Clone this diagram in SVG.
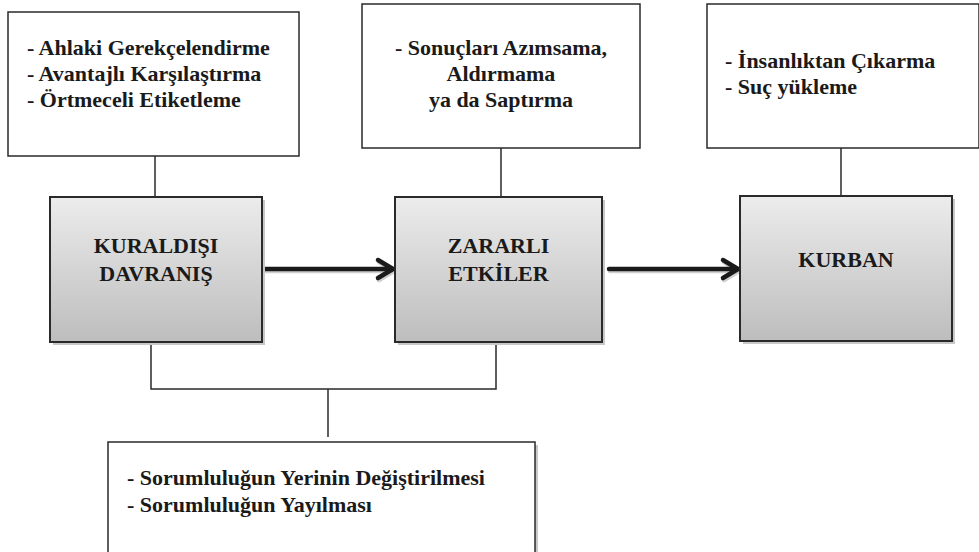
<svg xmlns="http://www.w3.org/2000/svg" width="979" height="552" viewBox="0 0 979 552">
<defs>
<linearGradient id="g" x1="0" y1="0" x2="0" y2="1">
<stop offset="0" stop-color="#ececec"/>
<stop offset="1" stop-color="#bdbdbd"/>
</linearGradient>
<style>
.box{fill:#fff;stroke:#2a2a2a;stroke-width:1.5}
.gbox{fill:url(#g);stroke:#2a2a2a;stroke-width:2}
.sh{fill:#c8c8c8}
.t{font-family:'Liberation Serif','Times New Roman',serif;font-weight:700;font-size:22px;fill:#1a1a1a}
.c{text-anchor:middle}
.ln{stroke:#2a2a2a;stroke-width:1.5;fill:none}
.ar{stroke:#1a1a1a;stroke-width:4.5;fill:none;stroke-linecap:round;stroke-linejoin:round}
.ars{stroke:#cfcfcf;stroke-width:4.5;fill:none;stroke-linecap:round;stroke-linejoin:round}
</style>
</defs>
<rect width="979" height="552" fill="#fff"/>
<g id="connectors">
<line class="ln" x1="155" y1="156" x2="155" y2="197"/>
<line class="ln" x1="501" y1="148" x2="501" y2="197"/>
<line class="ln" x1="841" y1="148" x2="841" y2="196"/>
<polyline class="ln" points="151,342 151,389 496,389 496,342"/>
<line class="ln" x1="328" y1="389" x2="328" y2="437"/>
<g transform="translate(1,2)">
<line class="ars" x1="264" y1="269" x2="392" y2="269"/>
<polyline class="ars" points="378,260 393,269 378,278"/>
<line class="ars" x1="609" y1="269" x2="737" y2="269"/>
<polyline class="ars" points="723,260 738,269 723,278"/>
</g>
<line class="ar" x1="264" y1="269" x2="392" y2="269"/>
<polyline class="ar" points="378,260 393,269 378,278"/>
<line class="ar" x1="609" y1="269" x2="737" y2="269"/>
<polyline class="ar" points="723,260 738,269 723,278"/>
</g>
<g id="n1">
<rect class="box" x="8" y="12" width="291" height="144"/>
<text class="t" x="27" y="55">- Ahlaki Gerekçelendirme</text>
<text class="t" x="27" y="81">- Avantajlı Karşılaştırma</text>
<text class="t" x="27" y="107">- Örtmeceli Etiketleme</text>
</g>
<g id="n2">
<rect class="box" x="362" y="4" width="278" height="144"/>
<text class="t c" x="501" y="55">- Sonuçları Azımsama,</text>
<text class="t c" x="501" y="81">Aldırmama</text>
<text class="t c" x="501" y="107">ya da Saptırma</text>
</g>
<g id="n3">
<rect class="box" x="707" y="4" width="272" height="144"/>
<text class="t" x="725" y="68">- İnsanlıktan Çıkarma</text>
<text class="t" x="725" y="94">- Suç yükleme</text>
</g>
<g id="kuraldisi">
<rect class="sh" x="53" y="200" width="212" height="145"/>
<rect class="gbox" x="50" y="197" width="212" height="145"/>
<text class="t c" x="156" y="253">KURALDIŞI</text>
<text class="t c" x="156" y="281">DAVRANIŞ</text>
</g>
<g id="zararli">
<rect class="sh" x="398" y="200" width="207" height="145"/>
<rect class="gbox" x="395" y="197" width="207" height="145"/>
<text class="t c" x="498.5" y="253">ZARARLI</text>
<text class="t c" x="498.5" y="281">ETKİLER</text>
</g>
<g id="kurban">
<rect class="sh" x="743" y="199" width="212" height="145"/>
<rect class="gbox" x="740" y="196" width="212" height="145"/>
<text class="t c" x="846" y="267">KURBAN</text>
</g>
<g id="n4">
<rect class="sh" x="111" y="445" width="427" height="120"/>
<rect class="box" x="108" y="442" width="427" height="120"/>
<text class="t" x="127" y="485">- Sorumluluğun Yerinin Değiştirilmesi</text>
<text class="t" x="127" y="512">- Sorumluluğun Yayılması</text>
</g>
</svg>
